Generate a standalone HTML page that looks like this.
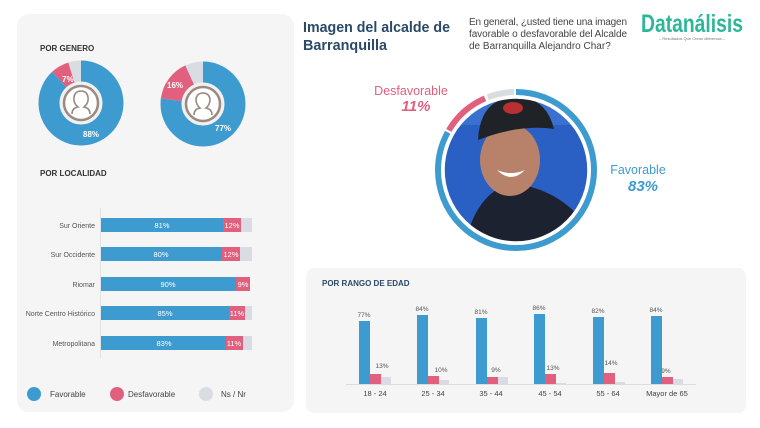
<!DOCTYPE html>
<html><head><meta charset="utf-8"><style>
html,body{margin:0;padding:0;background:#fff;}
svg{display:block;font-family:"Liberation Sans",Arial,sans-serif;}
</style></head><body>
<svg width="760" height="428" viewBox="0 0 760 428" xmlns="http://www.w3.org/2000/svg">
<rect width="760" height="428" fill="#fff"/>
<rect x="17" y="14" width="277" height="398" rx="12" fill="#f5f5f6"/>
<text x="40" y="51" font-size="8" font-weight="bold" fill="#333">POR GENERO</text>
<g transform="translate(81,103) rotate(-90)">
 <circle r="32" fill="none" stroke="#3d9bd0" stroke-width="21" stroke-dasharray="176.9 201.1"/>
 <circle r="32" fill="none" stroke="#e0607e" stroke-width="21" stroke-dasharray="0 176.9 14.1 200" />
 <circle r="32" fill="none" stroke="#d9dde3" stroke-width="21" stroke-dasharray="0 191 10.1 200"/>
</g>
<circle cx="81" cy="103" r="21" fill="#f0f0f0"/>
<circle cx="81" cy="103" r="17" fill="#fff" stroke="#9a8a80" stroke-width="2.5"/>
<path d="M72 114 q0-6 6-7 q-5-4-4-10 q1-6 7-6 q6 0 7 6 q1 6-4 10 q6 1 6 7" fill="none" stroke="#9a8a80" stroke-width="1.6"/>
<text x="62" y="82" font-size="8" font-weight="bold" fill="#fff">7%</text>
<text x="83" y="137" font-size="8" font-weight="bold" fill="#fff">88%</text>
<g transform="translate(203,104) rotate(-90)">
 <circle r="32" fill="none" stroke="#3d9bd0" stroke-width="21" stroke-dasharray="154.8 201.1"/>
 <circle r="32" fill="none" stroke="#e0607e" stroke-width="21" stroke-dasharray="0 154.8 32.2 200"/>
 <circle r="32" fill="none" stroke="#d9dde3" stroke-width="21" stroke-dasharray="0 187 14.1 200"/>
</g>
<circle cx="203" cy="104" r="21" fill="#f0f0f0"/>
<circle cx="203" cy="104" r="17" fill="#fff" stroke="#9a8a80" stroke-width="2.5"/>
<path d="M194 115 q0-6 6-7 q-4-3-4-9 q1-6 7-6 q6 0 7 6 q0 6-4 9 q6 1 6 7" fill="none" stroke="#9a8a80" stroke-width="1.6"/>
<text x="167" y="88" font-size="8" font-weight="bold" fill="#fff">16%</text>
<text x="215" y="131" font-size="8" font-weight="bold" fill="#fff">77%</text>

<text x="40" y="176" font-size="8" font-weight="bold" fill="#333">POR LOCALIDAD</text>
<line x1="100.5" y1="208" x2="100.5" y2="358" stroke="#e2e2e2"/>
<g font-size="7" fill="#555" text-anchor="end">
<text x="95" y="228">Sur Oriente</text>
<text x="95" y="257">Sur Occidente</text>
<text x="95" y="287">Riomar</text>
<text x="95" y="316">Norte Centro Histórico</text>
<text x="95" y="346">Metropolitana</text>
</g>
<g>
<rect x="101" y="218" width="122" height="14" fill="#3d9bd0"/><rect x="223" y="218" width="18" height="14" fill="#e0607e"/><rect x="241" y="218" width="11" height="14" fill="#d9dde3"/>
<rect x="101" y="247" width="121" height="14" fill="#3d9bd0"/><rect x="222" y="247" width="18" height="14" fill="#e0607e"/><rect x="240" y="247" width="12" height="14" fill="#d9dde3"/>
<rect x="101" y="277" width="135" height="14" fill="#3d9bd0"/><rect x="236" y="277" width="14" height="14" fill="#e0607e"/>
<rect x="101" y="306" width="128" height="14" fill="#3d9bd0"/><rect x="229" y="306" width="16" height="14" fill="#e0607e"/><rect x="245" y="306" width="7" height="14" fill="#d9dde3"/>
<rect x="101" y="336" width="125" height="14" fill="#3d9bd0"/><rect x="226" y="336" width="17" height="14" fill="#e0607e"/><rect x="243" y="336" width="9" height="14" fill="#d9dde3"/>
</g>
<g font-size="7.5" fill="#fff">
<text x="162" y="228" text-anchor="middle">81%</text><text x="232" y="228" text-anchor="middle">12%</text>
<text x="161" y="257" text-anchor="middle">80%</text><text x="231" y="257" text-anchor="middle">12%</text>
<text x="168" y="287" text-anchor="middle">90%</text><text x="243" y="287" text-anchor="middle">9%</text>
<text x="165" y="316" text-anchor="middle">85%</text><text x="237" y="316" text-anchor="middle">11%</text>
<text x="164" y="346" text-anchor="middle">83%</text><text x="234" y="346" text-anchor="middle">11%</text>
</g>
<circle cx="34" cy="394" r="7" fill="#3d9bd0"/><text x="50" y="397" font-size="8" fill="#444">Favorable</text>
<circle cx="117" cy="394" r="7" fill="#e0607e"/><text x="128" y="397" font-size="8" fill="#444">Desfavorable</text>
<circle cx="206" cy="394" r="7" fill="#d9dde3"/><text x="221" y="397" font-size="8" fill="#444">Ns / Nr</text>

<text x="303" y="32" font-size="15" font-weight="bold" fill="#2a4a68" textLength="147" lengthAdjust="spacingAndGlyphs">Imagen del alcalde de</text>
<text x="303" y="50" font-size="15" font-weight="bold" fill="#2a4a68" textLength="84" lengthAdjust="spacingAndGlyphs">Barranquilla</text>
<g font-size="10" fill="#444">
<text x="469" y="25" textLength="158" lengthAdjust="spacing">En general, ¿usted tiene una imagen</text>
<text x="469" y="37" textLength="158" lengthAdjust="spacing">favorable o desfavorable del Alcalde</text>
<text x="469" y="49">de Barranquilla Alejandro Char?</text>
</g>
<text x="641" y="32" font-size="25" font-weight="bold" fill="#2db79a" textLength="102" lengthAdjust="spacingAndGlyphs">Datanálisis</text>
<text x="692" y="40" font-size="4" fill="#777" text-anchor="middle">– Resultados Que Crean diferencia –</text>

<g transform="translate(516,170) rotate(-90)">
 <circle r="78" fill="none" stroke="#3d9bd0" stroke-width="6" stroke-dasharray="406.8 490.1"/>
 <circle r="78" fill="none" stroke="#e0607e" stroke-width="6" stroke-dasharray="0 409 49 500"/>
 <circle r="78" fill="none" stroke="#d9dde3" stroke-width="6" stroke-dasharray="0 461 27 500"/>
</g>
<defs><clipPath id="ph"><circle cx="516" cy="170" r="72"/></clipPath></defs>
<g clip-path="url(#ph)">
<rect x="440" y="95" width="160" height="150" fill="#2a5fc4"/>
<rect x="440" y="95" width="160" height="30" fill="#3a70d0"/>
<path d="M465 245 q10-50 45-62 q45 5 70 35 l10 30z" fill="#1c2230"/>
<ellipse cx="510" cy="160" rx="30" ry="36" fill="#b8826a"/>
<path d="M478 140 q2-42 38-43 q30 0 38 32 q-35-5-76 11z" fill="#1f2328"/>
<ellipse cx="513" cy="108" rx="10" ry="6" fill="#b83030"/>
<path d="M497 170 q14 14 28 0 q-14 6-28 0z" fill="#fff"/>
</g>
<circle cx="516" cy="170" r="72" fill="none" stroke="#fff" stroke-width="1.5"/>
<text x="411" y="95" font-size="12.5" fill="#e0607e" text-anchor="middle">Desfavorable</text>
<text x="416" y="111" font-size="15" font-weight="bold" font-style="italic" fill="#e0607e" text-anchor="middle">11%</text>
<text x="638" y="174" font-size="12.5" fill="#3d9bd0" text-anchor="middle">Favorable</text>
<text x="643" y="191" font-size="15" font-weight="bold" font-style="italic" fill="#3d9bd0" text-anchor="middle">83%</text>

<rect x="306" y="268" width="440" height="145" rx="8" fill="#f5f5f6"/>
<text x="322" y="286" font-size="8" font-weight="bold" fill="#2a4a68">POR RANGO DE EDAD</text>
<line x1="346" y1="384.5" x2="696" y2="384.5" stroke="#dcdcdc"/>
<g fill="#3d9bd0">
<rect x="359" y="321" width="11" height="63"/>
<rect x="417" y="315" width="11" height="69"/>
<rect x="476" y="318" width="11" height="66"/>
<rect x="534" y="314" width="11" height="70"/>
<rect x="593" y="317" width="11" height="67"/>
<rect x="651" y="316" width="11" height="68"/>
</g>
<g fill="#e0607e">
<rect x="370" y="374" width="11" height="10"/>
<rect x="428" y="376" width="11" height="8"/>
<rect x="487" y="377" width="11" height="7"/>
<rect x="545" y="374" width="11" height="10"/>
<rect x="604" y="373" width="11" height="11"/>
<rect x="662" y="377" width="11" height="7"/>
</g>
<g fill="#d9dde3">
<rect x="381" y="377" width="10" height="7"/>
<rect x="439" y="380" width="10" height="4"/>
<rect x="498" y="377" width="10" height="7"/>
<rect x="556" y="383" width="10" height="1"/>
<rect x="615" y="382" width="10" height="2"/>
<rect x="673" y="379" width="10" height="5"/>
</g>
<g font-size="6.5" fill="#555" text-anchor="middle">
<text x="364" y="317">77%</text><text x="422" y="311">84%</text><text x="481" y="314">81%</text><text x="539" y="310">86%</text><text x="598" y="313">82%</text><text x="656" y="312">84%</text>
<text x="382" y="368">13%</text><text x="441" y="372">10%</text><text x="496" y="372">9%</text><text x="553" y="370">13%</text><text x="611" y="365">14%</text><text x="666" y="373">9%</text>
</g>
<g font-size="7.5" fill="#444" text-anchor="middle">
<text x="375" y="396">18 - 24</text><text x="433" y="396">25 - 34</text><text x="491" y="396">35 - 44</text><text x="550" y="396">45 - 54</text><text x="608" y="396">55 - 64</text><text x="667" y="396">Mayor de 65</text>
</g>
</svg>
</body></html>
